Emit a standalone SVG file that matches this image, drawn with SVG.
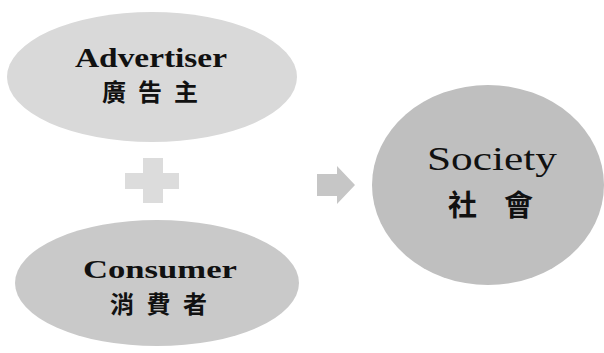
<svg xmlns="http://www.w3.org/2000/svg" width="604" height="353" viewBox="0 0 604 353">
  <style>
    .lat { font-family: "Liberation Serif", "Times New Roman", serif; fill: #111; }
    .cjk { font-family: "Noto Sans CJK TC", "Noto Sans CJK SC", sans-serif; fill: #111; font-weight: 700; }
    .b { font-weight: 700; }
  </style>
  <rect width="604" height="353" fill="#ffffff"/>

  <!-- operators: plus between inputs, arrow toward result -->
  <g id="connectors">
    <path id="plus" d="M143,158 H163 V173 H179 V189 H163 V203 H143 V189 H125 V173 H143 Z" fill="#dcdcdc"/>
    <path id="arrow" d="M317,174 H337 V166 L355,185 L337,204 V196 H317 Z" fill="#c6c6c6"/>
  </g>

  <g id="advertiser">
    <ellipse cx="152" cy="77" rx="145" ry="65" fill="#d9d9d9"/>
    <text class="lat b" x="75" y="67" font-size="28" textLength="152" lengthAdjust="spacingAndGlyphs">Advertiser</text>
    <text class="cjk" x="102" y="101" font-size="24" textLength="96" lengthAdjust="spacing">廣告主</text>
  </g>

  <g id="consumer">
    <ellipse cx="157" cy="283" rx="142" ry="63" fill="#c9c9c9"/>
    <text class="lat b" x="83" y="278" font-size="26" textLength="154" lengthAdjust="spacingAndGlyphs">Consumer</text>
    <text class="cjk" x="110" y="313" font-size="24" textLength="97" lengthAdjust="spacing">消費者</text>
  </g>

  <g id="society">
    <ellipse cx="488" cy="185" rx="116" ry="100" fill="#bfbfbf"/>
    <text class="lat" x="427" y="170" font-size="33" textLength="130" lengthAdjust="spacingAndGlyphs">Society</text>
    <text class="cjk" x="448" y="216" font-size="29" textLength="85" lengthAdjust="spacing" font-weight="500">社會</text>
  </g>
</svg>
